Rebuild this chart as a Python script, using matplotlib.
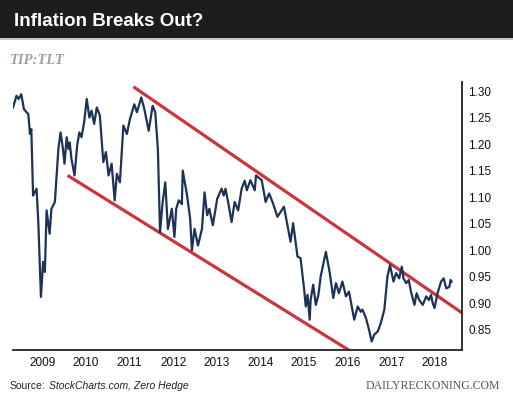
import matplotlib.pyplot as plt
import matplotlib.patches as patches

### TIP:TLT ratio (decimal years)
years = [2008.33, 2008.41, 2008.46, 2008.52, 2008.58, 2008.64, 2008.68, 2008.72, 2008.75, 2008.79,
         2008.87, 2008.91, 2008.97, 2009.02, 2009.06, 2009.10, 2009.17, 2009.21, 2009.29, 2009.37,
         2009.42, 2009.47, 2009.51, 2009.56, 2009.60, 2009.63, 2009.67, 2009.74, 2009.80, 2009.85,
         2009.90, 2009.96, 2010.02, 2010.08, 2010.13, 2010.19, 2010.25, 2010.32, 2010.40, 2010.46,
         2010.52, 2010.59, 2010.66, 2010.71, 2010.78, 2010.86, 2010.94, 2011.01, 2011.11, 2011.17,
         2011.27, 2011.34, 2011.44, 2011.53, 2011.59, 2011.65, 2011.70, 2011.76, 2011.82, 2011.88,
         2011.97, 2012.03, 2012.07, 2012.13, 2012.20, 2012.22, 2012.32, 2012.39, 2012.43, 2012.49,
         2012.57, 2012.66, 2012.72, 2012.78, 2012.83, 2012.91, 2013.01, 2013.11, 2013.16, 2013.20,
         2013.26, 2013.34, 2013.41, 2013.49, 2013.57, 2013.64, 2013.69, 2013.77, 2013.87, 2013.90,
         2014.03, 2014.12, 2014.20, 2014.29, 2014.39, 2014.54, 2014.59, 2014.69, 2014.75, 2014.85,
         2014.92, 2015.00, 2015.04, 2015.08, 2015.13, 2015.15, 2015.21, 2015.27, 2015.33, 2015.38,
         2015.50, 2015.59, 2015.67, 2015.73, 2015.80, 2015.88, 2015.96, 2016.03, 2016.15, 2016.23,
         2016.30, 2016.34, 2016.42, 2016.49, 2016.55, 2016.61, 2016.69, 2016.76, 2016.84, 2016.91,
         2016.97, 2017.05, 2017.11, 2017.18, 2017.24, 2017.28, 2017.34, 2017.40, 2017.45, 2017.53,
         2017.58, 2017.64, 2017.72, 2017.80, 2017.86, 2017.91, 2017.95, 2017.99, 2018.06, 2018.14,
         2018.20, 2018.26, 2018.33, 2018.36, 2018.38]
ratio = [1.269, 1.291, 1.285, 1.294, 1.266, 1.260, 1.257, 1.219, 1.228, 1.103,
         1.116, 1.053, 0.912, 0.978, 0.959, 1.075, 1.031, 1.078, 1.091, 1.191,
         1.222, 1.194, 1.163, 1.213, 1.191, 1.203, 1.172, 1.141, 1.197, 1.222,
         1.213, 1.241, 1.285, 1.250, 1.263, 1.238, 1.269, 1.254, 1.166, 1.185,
         1.141, 1.163, 1.094, 1.144, 1.128, 1.235, 1.219, 1.247, 1.275, 1.260,
         1.288, 1.266, 1.225, 1.272, 1.260, 1.191, 1.034, 1.091, 1.128, 1.040,
         1.078, 1.025, 1.078, 1.094, 1.087, 1.150, 1.103, 1.059, 1.000, 1.040,
         1.009, 1.040, 1.109, 1.066, 1.078, 1.047, 1.097, 1.116, 1.103, 1.116,
         1.091, 1.053, 1.091, 1.075, 1.116, 1.131, 1.113, 1.132, 1.113, 1.141,
         1.132, 1.091, 1.107, 1.088, 1.063, 1.082, 1.060, 1.016, 1.051, 0.988,
         0.985, 0.928, 0.894, 0.916, 0.869, 0.906, 0.935, 0.897, 0.916, 0.950,
         0.997, 0.957, 0.910, 0.938, 0.919, 0.941, 0.913, 0.922, 0.869, 0.894,
         0.884, 0.888, 0.872, 0.850, 0.828, 0.841, 0.847, 0.863, 0.888, 0.950,
         0.972, 0.941, 0.957, 0.947, 0.969, 0.947, 0.938, 0.944, 0.922, 0.897,
         0.919, 0.906, 0.897, 0.913, 0.906, 0.916, 0.900, 0.891, 0.919, 0.941,
         0.947, 0.928, 0.931, 0.944, 0.941]

### Channel lines
upper_x = [2011.09, 2018.62]
upper_y = [1.308, 0.882]
lower_x = [2009.58, 2016.06]
lower_y = [1.141, 0.810]

year_ticks = list(range(2009, 2019))
value_ticks = [0.85, 0.90, 0.95, 1.00, 1.05, 1.10, 1.15, 1.20, 1.25, 1.30]

fig = plt.figure(figsize=(5.13, 3.93), dpi=100)

### Black title bar
fig.patches.append(patches.Rectangle((0, 1 - 38 / 393), 1, 38 / 393, transform=fig.transFigure,
                                     facecolor='#1e1c1d', edgecolor='none', zorder=0))
fig.patches.append(patches.Rectangle((0, 1 - 39.5 / 393), 1, 1.5 / 393, transform=fig.transFigure,
                                     facecolor='#c8c8c8', edgecolor='none', zorder=0))
fig.text(14 / 513, 1 - 21 / 393, 'Inflation Breaks Out?', color='white', fontsize=13.5,
         fontweight='bold', family='Liberation Sans', va='center', ha='left')
fig.text(10 / 513, 1 - 60 / 393, 'TIP:TLT', color='#9aa0a8', fontsize=10.5, fontweight='bold',
         style='italic', family='Liberation Serif', va='center', ha='left')

ax = fig.add_axes([13 / 513, 43 / 393, 449 / 513, 268 / 393])
ax.plot(upper_x, upper_y, color='#c9363d', lw=2.3, solid_capstyle='butt', zorder=2)
ax.plot(lower_x, lower_y, color='#c9363d', lw=2.3, solid_capstyle='butt', zorder=2)
ax.plot(years, ratio, color='#1c3256', lw=1.6, zorder=3)

ax.set_xlim(2008.33, 2018.62)
ax.set_ylim(0.812, 1.317)
ax.set_xticks(year_ticks)
ax.set_xticklabels([str(y) for y in year_ticks])
ax.set_yticks(value_ticks)
ax.set_yticklabels(['%.2f' % v for v in value_ticks])
ax.yaxis.tick_right()
ax.tick_params(length=0, labelsize=8.5, colors='#111111')
ax.tick_params(axis='x', pad=5)
ax.tick_params(axis='y', pad=4.5)
for lab in ax.get_xticklabels() + ax.get_yticklabels():
    lab.set_family('Liberation Sans')
for side in ['left', 'top']:
    ax.spines[side].set_visible(False)
for side in ['right', 'bottom']:
    ax.spines[side].set_linewidth(1.3)
    ax.spines[side].set_color('#222222')

### Source line: plain "Source:" followed by italic names
src = fig.text(10 / 513, 1 - 386 / 393, 'Source:', color='#222222', fontsize=7.5,
               family='Liberation Sans', va='center', ha='left')
renderer = fig.canvas.get_renderer()
bb = src.get_window_extent(renderer=renderer)
fig.text((bb.x1 + 3) / 513, 1 - 386 / 393, 'StockCharts.com, Zero Hedge', color='#222222',
         fontsize=7.5, style='italic', family='Liberation Sans', va='center', ha='left')
fig.text(500 / 513, 1 - 386 / 393, 'DAILYRECKONING.COM', color='#555555', fontsize=8.5,
         family='Liberation Serif', va='center', ha='right')

plt.savefig('out.png', dpi=100)
